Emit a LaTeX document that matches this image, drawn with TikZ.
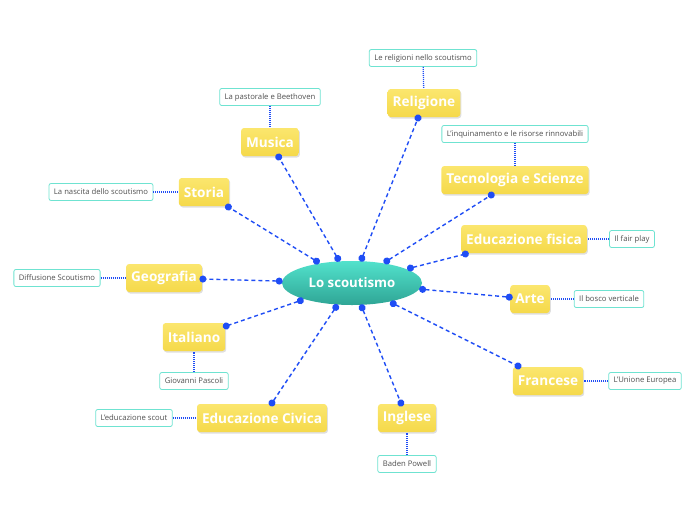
\documentclass[tikz,border=0pt]{standalone}
\usepackage{fontspec}
\setmainfont{Open Sans}
\usetikzlibrary{shapes.geometric,arrows.meta,shadows}
\definecolor{yellowtop}{HTML}{FBE66E}
\definecolor{yellowbot}{HTML}{F5D94A}
\definecolor{tealtop}{HTML}{52E2CC}
\definecolor{tealbot}{HTML}{2FA595}
\definecolor{subteal}{HTML}{6FE3D1}
\definecolor{linkblue}{HTML}{1F4DF5}
\definecolor{subtext}{HTML}{505050}
\begin{document}
\begin{tikzpicture}[x=1pt,y=-1pt,
main/.style={ellipse, minimum width=140pt, minimum height=44pt, top color=tealtop, bottom color=tealbot, text=white, font=\bfseries\fontsize{13.2}{15}\selectfont, outer sep=3pt},
topic/.style={rounded corners=3pt, top color=yellowtop, bottom color=yellowbot, text=white, font=\bfseries\fontsize{13.6}{15}\selectfont, minimum height=28pt, inner xsep=5pt, drop shadow={opacity=0.25, shadow xshift=1pt, shadow yshift=-1.5pt}, outer sep=1pt},
sub/.style={draw=subteal, line width=0.8pt, rounded corners=2pt, fill=white, text=subtext, font=\fontsize{7.7}{9}\selectfont, minimum height=17pt, inner xsep=5pt},
link/.style={{Circle[length=7pt]}-{Circle[length=7pt]}, draw=linkblue, line width=1.4pt, dash pattern=on 4pt off 3pt, shorten <=-3.5pt, shorten >=-3.5pt},
sublink/.style={draw=linkblue, line width=1.3pt, dash pattern=on 1pt off 1pt}
]
\useasboundingbox (0,0) rectangle (696,520);
\node[main] (main) at (352,283) {Lo scoutismo};
% rami principali
\node[topic] (rel) at (424,103) {Religione};
\node[topic] (mus) at (270,142) {Musica};
\node[topic] (tec) at (515,180) {Tecnologia e Scienze};
\node[topic] (sto) at (204,192) {Storia};
\node[topic] (fis) at (524,239) {Educazione fisica};
\node[topic] (geo) at (164,278) {Geografia};
\node[topic] (art) at (530,299) {Arte};
\node[topic] (ita) at (194,337) {Italiano};
\node[topic] (fra) at (548,381) {Francese};
\node[topic] (civ) at (262,418) {Educazione Civica};
\node[topic] (ing) at (407,418) {Inglese};
\foreach \t in {rel,mus,tec,sto,fis,geo,art,ita,fra,civ,ing} {\draw[link] (main) -- (\t);}
% sottoargomenti
\node[sub] (srel) at (423,58) {Le religioni nello scoutismo};
\node[sub] (smus) at (270,97) {La pastorale e Beethoven};
\node[sub] (stec) at (515,134) {L'inquinamento e le risorse rinnovabili};
\node[sub] (ssto) at (101,192) {La nascita dello scoutismo};
\node[sub] (sfis) at (632,239) {Il fair play};
\node[sub] (sgeo) at (57,278) {Diffusione Scoutismo};
\node[sub] (sart) at (609,299) {Il bosco verticale};
\node[sub] (sita) at (194,381) {Giovanni Pascoli};
\node[sub] (sfra) at (645,381) {L'Unione Europea};
\node[sub] (sciv) at (134,418) {L'educazione scout};
\node[sub] (sing) at (407,464) {Baden Powell};
\foreach \s/\t in {srel/rel,smus/mus,stec/tec,ssto/sto,sfis/fis,sgeo/geo,sart/art,sita/ita,sfra/fra,sciv/civ,sing/ing} {\draw[sublink] (\s) -- (\t);}
\end{tikzpicture}
\end{document}
